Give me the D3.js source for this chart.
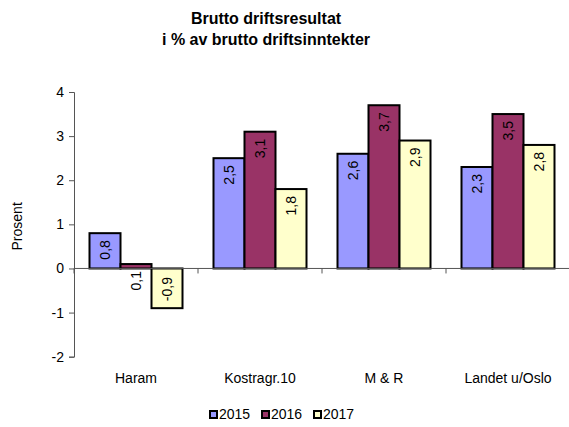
<!DOCTYPE html>
<html>
<head>
<meta charset="utf-8">
<script src="https://cdn.jsdelivr.net/npm/d3@7"></script>
<style>
  body { margin: 0; background: #fff; }
  text { font-family: "Liberation Sans", Arial, sans-serif; fill: #000; }
</style>
</head>
<body>
<svg id="chart" width="569" height="427"></svg>
<script>
// data
const categories = ["Haram", "Kostragr.10", "M & R", "Landet u/Oslo"];
const years = ["2015", "2016", "2017"];
const v2015 = [0.8, 2.5, 2.6, 2.3];
const v2016 = [0.1, 3.1, 3.7, 3.5];
const v2017 = [-0.9, 1.8, 2.9, 2.8];
const yTicks = [-2, -1, 0, 1, 2, 3, 4];
const colors = ["#9999ff", "#993366", "#ffffcc"];

const series = [v2015, v2016, v2017];
const rows = [];
categories.forEach((c, i) => years.forEach((yr, j) => rows.push({ cat: c, year: yr, value: series[j][i] })));

const svg = d3.select("#chart");
const plotLeft = 74, plotRight = 570, plotTop = 92, plotBottom = 356.7;

const x = d3.scaleBand().domain(categories).range([plotLeft, plotRight]).paddingInner(0.25).paddingOuter(0.125);
const x1 = d3.scaleBand().domain(years).range([0, x.bandwidth()]);
const y = d3.scaleLinear().domain([-2, 4]).range([plotBottom, plotTop]);
const color = d3.scaleOrdinal().domain(years).range(colors);
const fmt = v => d3.format(".1f")(v).replace(".", ",").replace("−", "-");

// title
const title = svg.append("text").attr("text-anchor", "middle").style("font-weight", "bold").style("font-size", "16px");
title.append("tspan").attr("x", 266).attr("y", 24).text("Brutto driftsresultat");
title.append("tspan").attr("x", 266).attr("y", 45).text("i % av brutto driftsinntekter");

// y axis
const yAxis = svg.append("g").attr("transform", `translate(${plotLeft},0)`)
  .call(d3.axisLeft(y).tickValues(yTicks).tickSize(5).tickPadding(5).tickFormat(d3.format("d")));
yAxis.select(".domain").attr("stroke", "#555");
yAxis.selectAll(".tick line").attr("stroke", "#555");
yAxis.selectAll(".tick text").style("font-size", "14px").attr("fill", "#000")
  .text(d => String(d).replace("−", "-"));

svg.append("text").attr("transform", `translate(22,${(y(0) + y(2)) / 2 + 2}) rotate(-90)`)
  .attr("text-anchor", "middle").style("font-size", "14px").text("Prosent");

// bars
svg.append("g").selectAll("rect").data(rows).join("rect")
  .attr("x", d => x(d.cat) + x1(d.year))
  .attr("width", x1.bandwidth())
  .attr("y", d => y(Math.max(0, d.value)))
  .attr("height", d => Math.abs(y(d.value) - y(0)))
  .attr("fill", d => color(d.year))
  .attr("stroke", "#000")
  .attr("stroke-width", 2);

// x axis at zero
svg.append("line").attr("x1", plotLeft).attr("x2", plotRight).attr("y1", y(0)).attr("y2", y(0)).attr("stroke", "#555");
const edges = categories.map(c => x(c) - x.step() * x.paddingInner() / 2);
svg.append("g").selectAll("line").data(edges).join("line")
  .attr("x1", d => d).attr("x2", d => d).attr("y1", y(0)).attr("y2", y(0) + 5).attr("stroke", "#555");

svg.append("g").selectAll("text").data(categories).join("text")
  .attr("x", d => x(d) + x.bandwidth() / 2).attr("y", 383)
  .attr("text-anchor", "middle").style("font-size", "14px").text(d => d);

// value labels, rotated
svg.append("g").selectAll("text").data(rows).join("text")
  .attr("transform", d => {
    const cx = x(d.cat) + x1(d.year) + x1.bandwidth() / 2;
    const py = d.value >= 0 ? y(d.value) + 7 : y(d.value) - 7;
    return `translate(${cx},${py}) rotate(-90)`;
  })
  .attr("text-anchor", d => d.value >= 0 ? "end" : "start")
  .attr("dy", "0.35em")
  .style("font-size", "14px")
  .text(d => fmt(d.value));

// legend
const legend = svg.append("g").selectAll("g").data(years).join("g")
  .attr("transform", (d, i) => `translate(${210 + i * 52},411)`);
legend.append("rect").attr("width", 7).attr("height", 7).attr("fill", d => color(d))
  .attr("stroke", "#000").attr("stroke-width", 2);
legend.append("text").attr("x", 9).attr("y", 8).style("font-size", "14px").text(d => d);
</script>
</body>
</html>
